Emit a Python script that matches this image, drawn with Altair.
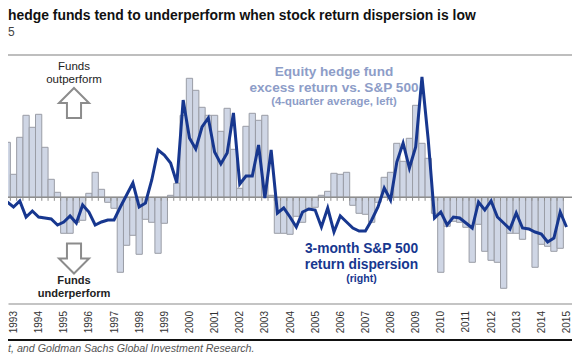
import altair as alt
import pandas as pd

# Equity hedge fund excess return vs. S&P 500, 4-quarter average (left), one per quarter
excess = [5.5,2.3,6.0,8.2,7.0,8.3,5.0,1.8,0.5,-3.6,-3.6,-2.5,-2.3,0.4,2.5,0.8,-0.5,-1.1,-7.5,-4.8,
          -3.8,-5.7,-2.2,-2.5,-5.6,-2.6,0.2,1.4,8.2,11.9,10.7,9.0,8.2,8.2,6.6,8.9,4.8,0.9,7.1,8.4,
          7.7,8.2,0.2,-3.6,-3.6,-3.7,-1.9,-2.5,-1.1,-1.0,0.2,0.6,2.4,2.3,2.5,-0.8,-1.6,-1.7,-2.5,-0.5,
          2.0,2.5,5.4,3.6,5.9,9.2,5.4,3.9,-1.6,-7.5,-2.9,-2.4,-2.5,-3.0,-6.5,-2.7,-5.4,-6.3,-6.5,-9.1,
          -3.6,-3.6,-4.2,-3.1,-7.0,-4.7,-4.9,-5.4,-5.1]
# 3-month S&P 500 return dispersion (right), one per quarter
dispersion = [9.8,9.3,9.9,8.3,8.9,8.3,8.2,8.1,7.5,7.8,8.4,7.7,9.5,8.8,7.5,7.8,8.0,8.0,9.3,10.5,
              11.7,9.3,9.7,12.0,15.0,14.5,13.7,11.7,20.0,16.2,15.1,17.3,18.2,14.8,13.6,14.7,18.7,11.6,12.4,12.4,
              15.5,10.2,15.0,8.7,9.2,8.3,7.3,8.8,9.1,9.0,7.3,9.2,6.8,8.4,7.8,7.2,6.9,6.9,8.0,9.3,
              11.2,10.0,13.8,15.7,13.2,15.3,22.3,16.0,8.2,8.8,7.5,8.3,8.2,7.7,7.2,9.8,9.0,9.9,8.3,7.7,
              7.1,8.7,7.2,7.1,6.8,6.6,5.8,6.2,8.8,7.3]
years = list(range(1993, 2016))

W, H = 564, 351
NAVY = "#17378f"
SLATE = "#8d9dc8"
FONT = "Liberation Sans"

bars_df = pd.DataFrame({"t": [1992.75 + i / 4 for i in range(len(excess))], "v": excess})
line_df = pd.DataFrame({"t": [1992.75 + i / 4 for i in range(len(dispersion))], "v": dispersion})
edges_df = pd.DataFrame({"t": [1992.625 + i / 4 for i in range(len(excess) + 1)]})

xscale = alt.Scale(domain=[1992.781, 2015.219], nice=False, zero=False, padding=0)
xaxis = alt.Axis(values=years, format="d", labelAngle=270, labelAlign="right", labelBaseline="middle",
                 labelFontSize=10, labelFont=FONT, labelColor="#333333", labelPadding=7, labelFlush=False,
                 labelOverlap=False, ticks=False, grid=False, domainColor="#b0b0b0", domainWidth=1.5,
                 offset=-55.5, title=None)


def hline(y, color, width):
    return alt.Chart(pd.DataFrame({"a": [0]})).mark_rule(color=color, strokeWidth=width).encode(
        x=alt.value(-8), x2=alt.value(W), y=alt.value(y))


def label(text, x, y, size, color, weight="normal", align="center", style="normal"):
    return alt.Chart(pd.DataFrame({"s": [text]})).mark_text(
        x=x, y=y, fontSize=size, color=color, fontWeight=weight, align=align, baseline="middle",
        font=FONT, fontStyle=style).encode(text="s:N")


def arrow(path, y):
    return alt.Chart(pd.DataFrame({"a": [0]})).mark_point(
        shape=path, size=900, filled=False, stroke="#8c8c8c", strokeWidth=2, opacity=1).encode(
        x=alt.value(66), y=alt.value(y))


bars = alt.Chart(bars_df).mark_bar(width=6.28, fill="#cfd6e5", stroke="#9a9da6", strokeWidth=1).encode(
    x=alt.X("t:Q", scale=xscale, axis=xaxis),
    y=alt.Y("v:Q", scale=alt.Scale(domain=[-16.17, 18.93], nice=False, zero=False), axis=None),
)
line = alt.Chart(line_df).mark_line(color=NAVY, strokeWidth=3, strokeJoin="miter").encode(
    x=alt.X("t:Q", scale=xscale, axis=xaxis),
    y=alt.Y("v:Q", scale=alt.Scale(domain=[-5.9, 29.2], nice=False, zero=False), axis=None),
)
ticks = alt.Chart(edges_df).mark_rule(color="#8e8e8e", strokeWidth=1).encode(
    x=alt.X("t:Q", scale=xscale, axis=xaxis), y=alt.value(189.3), y2=alt.value(192.8))

chart = alt.layer(
    hline(47, "#a8a8a8", 1.5),
    hline(332, "#111111", 2),
    bars,
    ticks,
    hline(189.3, "#8e8e8e", 1.5),
    line,
    arrow("M0,-1L1,0L0.47,0L0.47,1L-0.47,1L-0.47,0L-1,0Z", 95),
    arrow("M0,1L1,0L0.47,0L0.47,-1L-0.47,-1L-0.47,0L-1,0Z", 250.5),
    label("hedge funds tend to underperform when stock return dispersion is low", 0, 8, 13.9, "#111111", "bold", "left"),
    label("5", 0, 23.5, 12, "#444444", "normal", "left"),
    label("Funds", 66, 58.5, 11.5, "#222222", "normal"),
    label("outperform", 66, 71.5, 11.5, "#222222", "normal"),
    label("Funds", 66, 273, 11.1, "#222222", "bold"),
    label("underperform", 66, 286, 11.1, "#222222", "bold"),
    label("Equity hedge fund", 326, 64, 13.6, SLATE, "bold"),
    label("excess return vs. S&P 500", 326, 80, 13.6, SLATE, "bold"),
    label("(4-quarter average, left)", 326, 94, 11.3, SLATE, "bold"),
    label("3-month S&P 500", 353.5, 241, 13.8, NAVY, "bold"),
    label("return dispersion", 353.5, 257, 13.8, NAVY, "bold"),
    label("(right)", 353.5, 271, 10.6, NAVY, "bold"),
    label("t, and Goldman Sachs Global Investment Research.", 0, 341, 10.7, "#555555", "normal", "left", "italic"),
).resolve_scale(y="independent").properties(
    width=W, height=H, padding=0,
    autosize=alt.AutoSizeParams(type="none", contains="padding"),
).configure_view(stroke=None)

chart.save("out.html", embed_options={"renderer": "svg", "actions": False})
